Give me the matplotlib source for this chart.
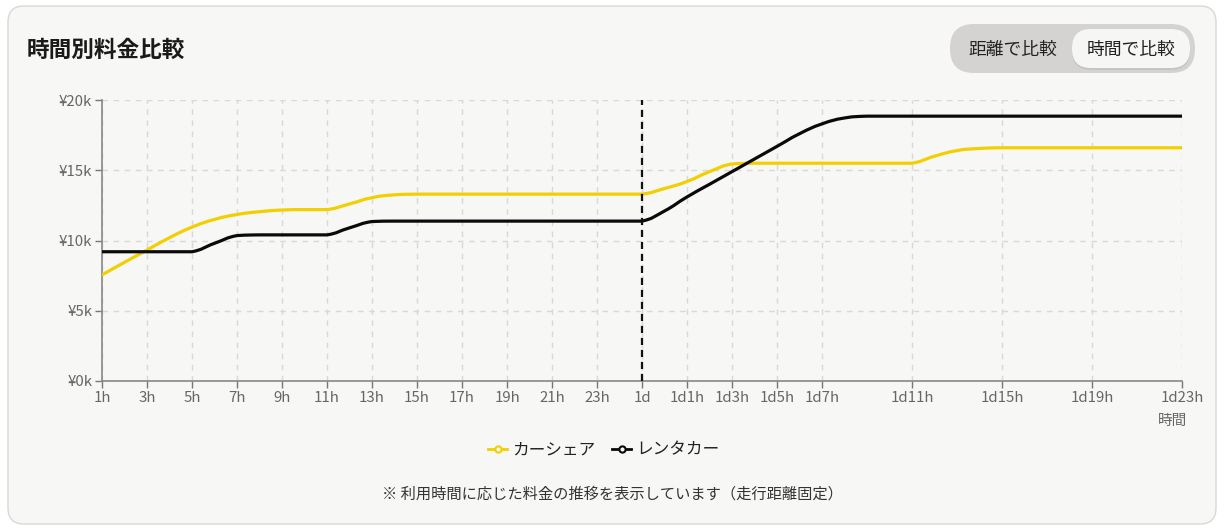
import numpy as np
import matplotlib
matplotlib.use("Agg")
import matplotlib.pyplot as plt
from matplotlib.path import Path
from matplotlib.patches import PathPatch, FancyBboxPatch
from matplotlib.lines import Line2D

plt.rcParams['font.family'] = ['Noto Sans CJK JP', 'DejaVu Sans']

# ---------------- data ----------------
# hourly categories: index 0 = 1h ... index 24 = 1d ... index 48 = 1d23h
tick_index = [0, 2, 4, 6, 8, 10, 12, 14, 16, 18, 20, 22, 24, 26, 28, 30, 32, 36, 40, 44, 48]
tick_labels = ["1h", "3h", "5h", "7h", "9h", "11h", "13h", "15h", "17h", "19h", "21h", "23h",
               "1d", "1d1h", "1d3h", "1d5h", "1d7h", "1d11h", "1d15h", "1d19h", "1d23h"]

carshare = [7.55, 8.45, 9.32, 10.2, 10.95, 11.5, 11.85, 12.05, 12.17, 12.2,
            12.2, 12.6, 13.05, 13.25, 13.3, 13.3, 13.3, 13.3, 13.3, 13.3,
            13.3, 13.3, 13.3, 13.3, 13.3, 13.7, 14.2, 14.9, 15.45, 15.5,
            15.5, 15.5, 15.5, 15.5, 15.5, 15.5, 15.5, 16.0, 16.4, 16.55,
            16.6, 16.6, 16.6, 16.6, 16.6, 16.6, 16.6, 16.6, 16.6]
rental = [9.2, 9.2, 9.2, 9.2, 9.2, 9.8, 10.35, 10.4, 10.4, 10.4,
          10.4, 10.9, 11.35, 11.38, 11.38, 11.38, 11.38, 11.38, 11.38, 11.38,
          11.38, 11.38, 11.38, 11.38, 11.38, 12.1, 13.1, 14.0, 14.9, 15.8,
          16.7, 17.6, 18.3, 18.72, 18.85, 18.85, 18.85, 18.85, 18.85, 18.85,
          18.85, 18.85, 18.85, 18.85, 18.85, 18.85, 18.85, 18.85, 18.85]
series_names = ["カーシェア", "レンタカー"]
series_colors = ["#F2CF00", "#0a0a0a"]
y_ticks = [0, 5, 10, 15, 20]
y_labels = ["¥0k", "¥5k", "¥10k", "¥15k", "¥20k"]
marker_index = 24  # 1d

# ---------------- figure ----------------
W, H = 1224, 530
fig = plt.figure(figsize=(W / 100, H / 100), dpi=100)
fig.patch.set_facecolor("#ffffff")

card = FancyBboxPatch((8, 6), 1208, 518, boxstyle="round,pad=0,rounding_size=16",
                      transform=None, facecolor="#f7f7f5", edgecolor="#d8d8d6", lw=1.0, zorder=-2)
fig.patches.append(card)

# toggle
outer = FancyBboxPatch((950, 457), 245, 49, boxstyle="round,pad=0,rounding_size=24",
                       transform=None, facecolor="#d4d3d1", edgecolor="none", zorder=-1)
shadow = FancyBboxPatch((1072, 460), 118, 40, boxstyle="round,pad=0,rounding_size=19",
                        transform=None, facecolor="#bdbcba", edgecolor="none", zorder=-1, alpha=0.6)
inner = FancyBboxPatch((1072, 462), 118, 39, boxstyle="round,pad=0,rounding_size=19",
                       transform=None, facecolor="#f6f6f4", edgecolor="none", zorder=-0.5)
for p in (outer, shadow, inner):
    fig.patches.append(p)
fig.text(1013 / W, 480 / H, "距離で比較", fontsize=12.8, color="#222222", ha="center", va="center")
fig.text(1131 / W, 480 / H, "時間で比較", fontsize=12.8, color="#222222", ha="center", va="center")

fig.text(27 / W, 480 / H, "時間別料金比較", fontsize=16.3, fontweight="bold", color="#1a1a1a",
         ha="left", va="center")

# ---------------- axes ----------------
ax = fig.add_axes([102 / W, (530 - 381) / H, 1080 / W, 281 / H])
ax.set_zorder(5)
ax.set_facecolor("none")
ax.set_xlim(0, len(carshare) - 1)
ax.set_ylim(0, 20)

ax.set_xticks(tick_index)
ax.set_xticklabels(tick_labels)
ax.set_yticks(y_ticks)
ax.set_yticklabels(y_labels)
ax.tick_params(axis="both", colors="#777777", labelcolor="#666666", labelsize=10.8, length=5, width=1)
ax.tick_params(axis="x", pad=2)
ax.tick_params(axis="y", pad=2)
ax.grid(True, color="#d8d8d8", linestyle=(0, (4, 4)), linewidth=1)
ax.set_axisbelow(True)
for s in ("top", "right"):
    ax.spines[s].set_visible(False)
for s in ("left", "bottom"):
    ax.spines[s].set_color("#888888")
    ax.spines[s].set_linewidth(1.2)


def smooth_path(xs, ys, k=0.5):
    xs = np.asarray(xs, float)
    ys = np.asarray(ys, float)
    n = len(xs)
    verts = [(xs[0], ys[0])]
    codes = [Path.MOVETO]
    cps = []
    for i in range(n):
        ip = max(i - 1, 0)
        inx = min(i + 1, n - 1)
        vx = (xs[inx] - xs[ip]) * k * 0.5
        vy = (ys[inx] - ys[ip]) * k * 0.5
        c0 = [xs[i] - vx, ys[i] - vy]
        c1 = [xs[i] + vx, ys[i] + vy]
        lo, hi = min(ys[ip], ys[i]), max(ys[ip], ys[i])
        c0[1] = min(max(c0[1], lo), hi)
        lo, hi = min(ys[inx], ys[i]), max(ys[inx], ys[i])
        c1[1] = min(max(c1[1], lo), hi)
        cps.append((c0, c1))
    for i in range(n - 1):
        verts += [tuple(cps[i][1]), tuple(cps[i + 1][0]), (xs[i + 1], ys[i + 1])]
        codes += [Path.CURVE4] * 3
    return Path(verts, codes)


xs = np.arange(len(carshare))
for vals, col in zip([carshare, rental], series_colors):
    ax.add_patch(PathPatch(smooth_path(xs, vals), fill=False, edgecolor=col, lw=2.3,
                           capstyle="round", joinstyle="round", zorder=3))

ax.axvline(marker_index, color="#111111", lw=1.6, linestyle=(0, (3.2, 2.2)), zorder=4)

fig.text(1173 / W, (530 - 421) / H, "時間", fontsize=10.5, color="#666666", ha="center", va="center")

handles = [Line2D([0], [0], color=c, lw=2, marker="o", markersize=4.5,
                  markerfacecolor="#f7f7f5", markeredgecolor=c, markeredgewidth=1.5)
           for c in series_colors]
fig.legend(handles, series_names, loc="center", bbox_to_anchor=(604 / W, (530 - 450) / H),
           ncol=2, frameon=False, fontsize=12, handlelength=1.1, handletextpad=0.35,
           columnspacing=1.0, labelcolor="#222222")

fig.text(612 / W, (530 - 494) / H, "※ 利用時間に応じた料金の推移を表示しています（走行距離固定）",
         fontsize=11, color="#333333", ha="center", va="center")

fig.savefig("out.png", dpi=100, facecolor=fig.get_facecolor())
